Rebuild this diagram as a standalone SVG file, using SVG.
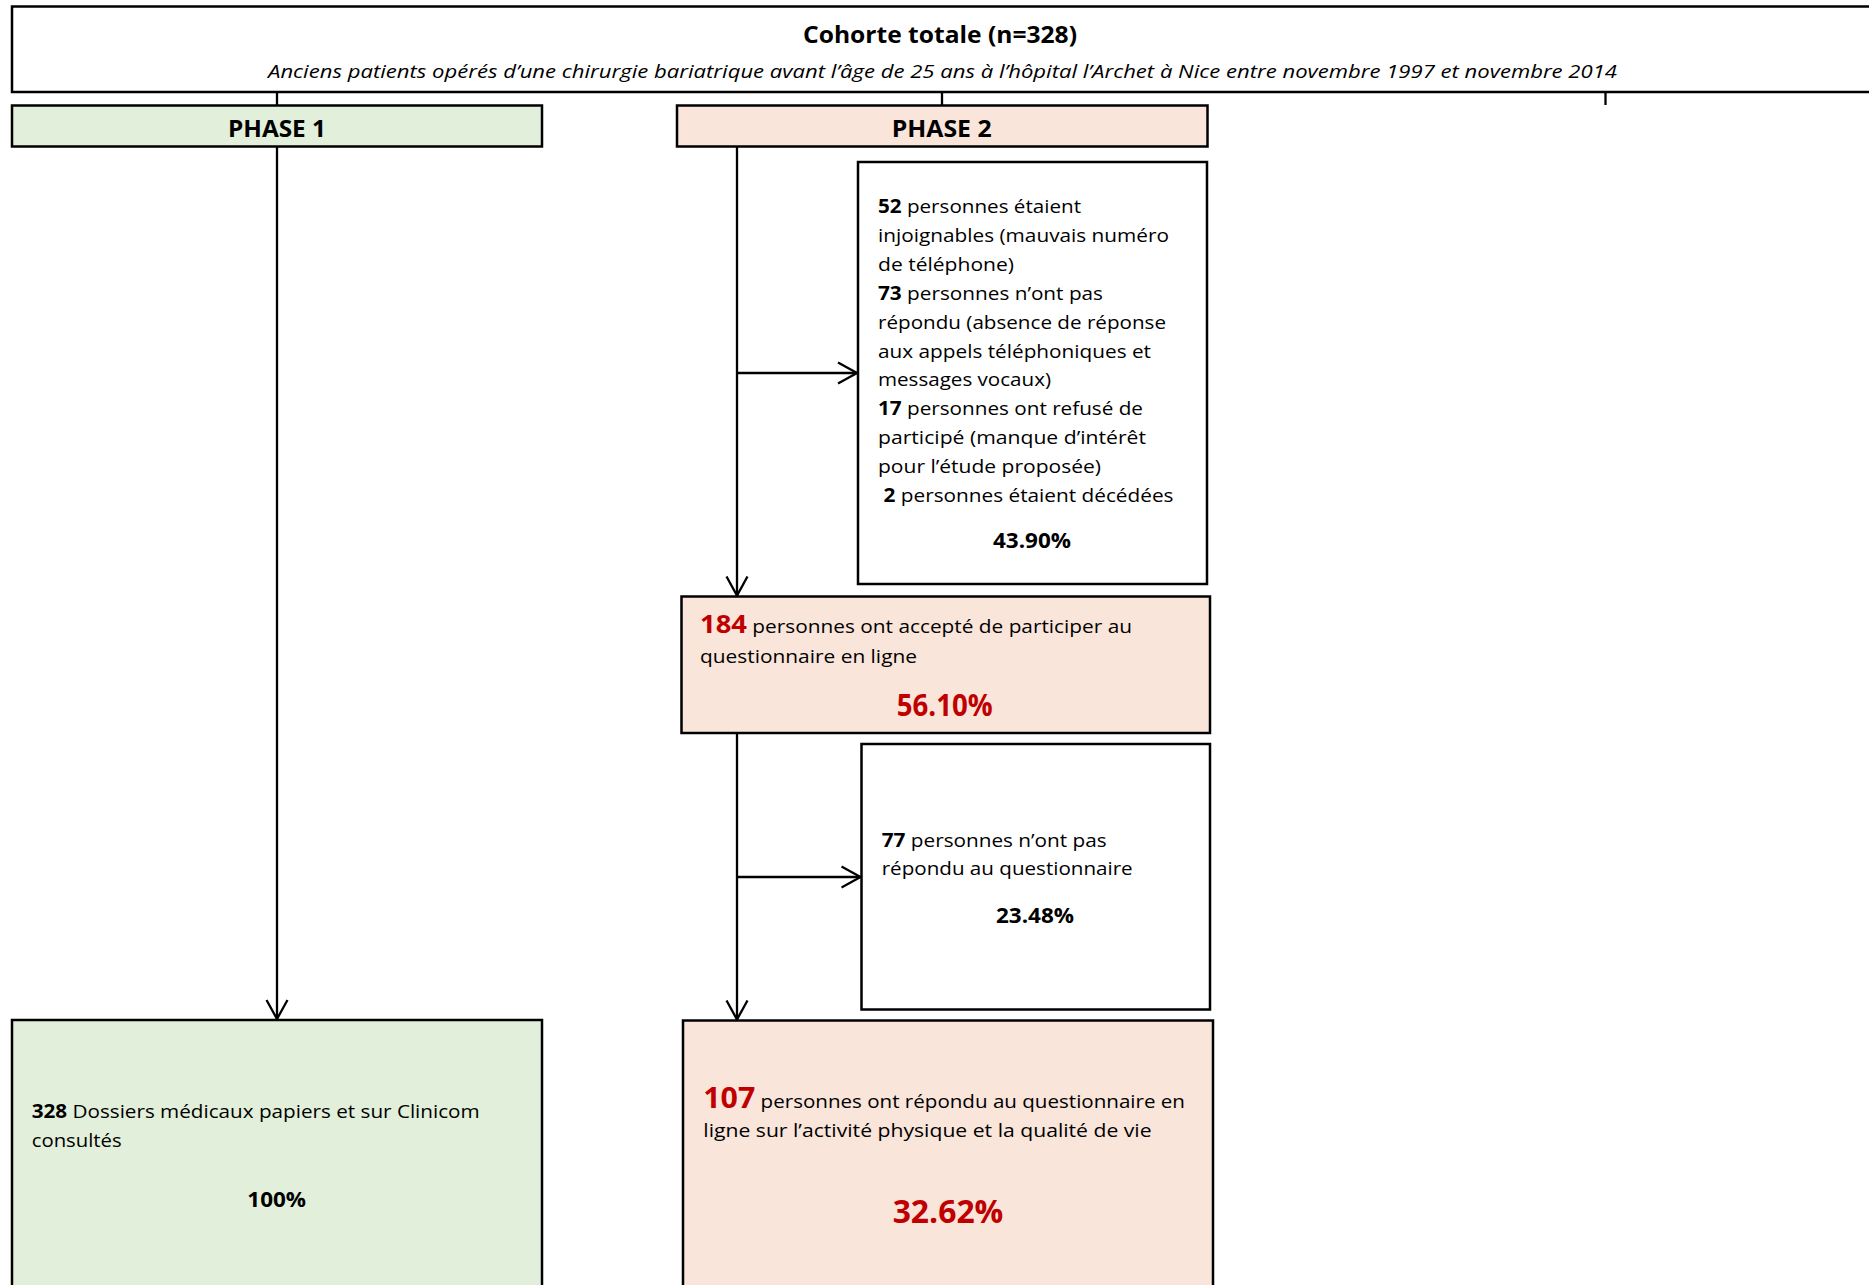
<svg xmlns="http://www.w3.org/2000/svg" width="1869" height="1285" viewBox="0 0 1869 1285">
<style>
.box{stroke:#000;stroke-width:2.5}
.w{fill:#fff}
.g{fill:#E2EFDA}
.p{fill:#F9E5DA}
text{font-family:"Open Sans","Liberation Sans",sans-serif;fill:#000;font-size:19px}
.b{font-weight:bold}
.r{fill:#C00000}
.i{font-style:italic}
.m{text-anchor:middle}
.conn line{stroke:#000;stroke-width:2.3;fill:none}
.stub{stroke-width:2.5}
</style>
<defs>
<marker id="arr" viewBox="0 0 22 24" refX="20" refY="12" markerWidth="22" markerHeight="24" markerUnits="userSpaceOnUse" orient="auto">
<path d="M1,1.5 L20,12 L1,22.5" fill="none" stroke="#000" stroke-width="2.3"/>
</marker>
</defs>
<rect width="1869" height="1285" fill="#fff"/>

<g id="cohorte">
<rect class="box w" x="12" y="6.5" width="1880" height="85.5"/>
<text class="b m" x="940" y="43" style="font-size:23.5px" textLength="274" lengthAdjust="spacingAndGlyphs">Cohorte totale (n=328)</text>
<text class="i m" x="942.5" y="78" style="font-size:17.5px" textLength="1349" lengthAdjust="spacingAndGlyphs">Anciens patients opérés d’une chirurgie bariatrique avant l’âge de 25 ans à l’hôpital l’Archet à Nice entre novembre 1997 et novembre 2014</text>
</g>

<g class="conn" id="connectors">
<line class="stub" x1="277" y1="92" x2="277" y2="105.5"/>
<line class="stub" x1="942" y1="92" x2="942" y2="105.5"/>
<line class="stub" x1="1605.5" y1="92" x2="1605.5" y2="105"/>
<line x1="277" y1="146.5" x2="277" y2="1019" marker-end="url(#arr)"/>
<line x1="737" y1="146" x2="737" y2="595.5" marker-end="url(#arr)"/>
<line x1="737" y1="373" x2="857" y2="373" marker-end="url(#arr)"/>
<line x1="737" y1="733" x2="737" y2="1019.5" marker-end="url(#arr)"/>
<line x1="737" y1="877" x2="860.5" y2="877" marker-end="url(#arr)"/>
</g>

<g id="phase1">
<rect class="box g" x="12" y="105.5" width="530" height="41"/>
<text class="b m" x="277" y="136.5" style="font-size:23.5px" textLength="98" lengthAdjust="spacingAndGlyphs">PHASE 1</text>
</g>

<g id="phase2">
<rect class="box p" x="677" y="105.5" width="530.5" height="41"/>
<text class="b m" x="941.7" y="136.5" style="font-size:23.5px" textLength="100" lengthAdjust="spacingAndGlyphs">PHASE 2</text>
</g>

<g id="exclus1">
<rect class="box w" x="858" y="162" width="349" height="422"/>
<text x="878" y="213.3" textLength="203" lengthAdjust="spacingAndGlyphs"><tspan class="b">52</tspan> personnes étaient</text>
<text x="878" y="242.2" textLength="291" lengthAdjust="spacingAndGlyphs">injoignables (mauvais numéro</text>
<text x="878" y="271" textLength="136" lengthAdjust="spacingAndGlyphs">de téléphone)</text>
<text x="878" y="299.9" textLength="225" lengthAdjust="spacingAndGlyphs"><tspan class="b">73</tspan> personnes n’ont pas</text>
<text x="878" y="328.7" textLength="288" lengthAdjust="spacingAndGlyphs">répondu (absence de réponse</text>
<text x="878" y="357.6" textLength="273" lengthAdjust="spacingAndGlyphs">aux appels téléphoniques et</text>
<text x="878" y="386.4" textLength="173" lengthAdjust="spacingAndGlyphs">messages vocaux)</text>
<text x="878" y="415.3" textLength="265" lengthAdjust="spacingAndGlyphs"><tspan class="b">17</tspan> personnes ont refusé de</text>
<text x="878" y="444.1" textLength="268" lengthAdjust="spacingAndGlyphs">participé (manque d’intérêt</text>
<text x="878" y="473" textLength="223" lengthAdjust="spacingAndGlyphs">pour l’étude proposée)</text>
<text x="883.5" y="501.8" textLength="290" lengthAdjust="spacingAndGlyphs"><tspan class="b">2</tspan> personnes étaient décédées</text>
<text class="b m" x="1032" y="548" style="font-size:21px" textLength="78" lengthAdjust="spacingAndGlyphs">43.90%</text>
</g>

<g id="accepte">
<rect class="box p" x="681.5" y="596.5" width="528.5" height="136.5"/>
<text x="700" y="633.3" textLength="432" lengthAdjust="spacingAndGlyphs"><tspan class="b r" style="font-size:25px">184</tspan> personnes ont accepté de participer au</text>
<text x="700" y="662.7" textLength="217" lengthAdjust="spacingAndGlyphs">questionnaire en ligne</text>
<text class="b r m" x="944.7" y="716" style="font-size:30px" textLength="96" lengthAdjust="spacingAndGlyphs">56.10%</text>
</g>

<g id="exclus2">
<rect class="box w" x="861.5" y="744" width="348.5" height="265.5"/>
<text x="881.7" y="846.7" textLength="225" lengthAdjust="spacingAndGlyphs"><tspan class="b">77</tspan> personnes n’ont pas</text>
<text x="881.7" y="875" textLength="251" lengthAdjust="spacingAndGlyphs">répondu au questionnaire</text>
<text class="b m" x="1035" y="922.7" style="font-size:21px" textLength="78" lengthAdjust="spacingAndGlyphs">23.48%</text>
</g>

<g id="dossiers">
<rect class="box g" x="12" y="1020" width="530" height="300"/>
<text x="31.7" y="1118.3" textLength="448" lengthAdjust="spacingAndGlyphs"><tspan class="b">328</tspan> Dossiers médicaux papiers et sur Clinicom</text>
<text x="31.7" y="1146.7" textLength="90" lengthAdjust="spacingAndGlyphs">consultés</text>
<text class="b m" x="276.7" y="1206.7" style="font-size:22px" textLength="58.7" lengthAdjust="spacingAndGlyphs">100%</text>
</g>

<g id="repondu">
<rect class="box p" x="683" y="1020.5" width="530" height="300"/>
<text x="703.3" y="1107.7" textLength="481.7" lengthAdjust="spacingAndGlyphs"><tspan class="b r" style="font-size:28px">107</tspan> personnes ont répondu au questionnaire en</text>
<text x="703.3" y="1137.3" textLength="448.3" lengthAdjust="spacingAndGlyphs">ligne sur l’activité physique et la qualité de vie</text>
<text class="b r m" x="948" y="1223.3" style="font-size:33px" textLength="110.7" lengthAdjust="spacingAndGlyphs">32.62%</text>
</g>
</svg>
